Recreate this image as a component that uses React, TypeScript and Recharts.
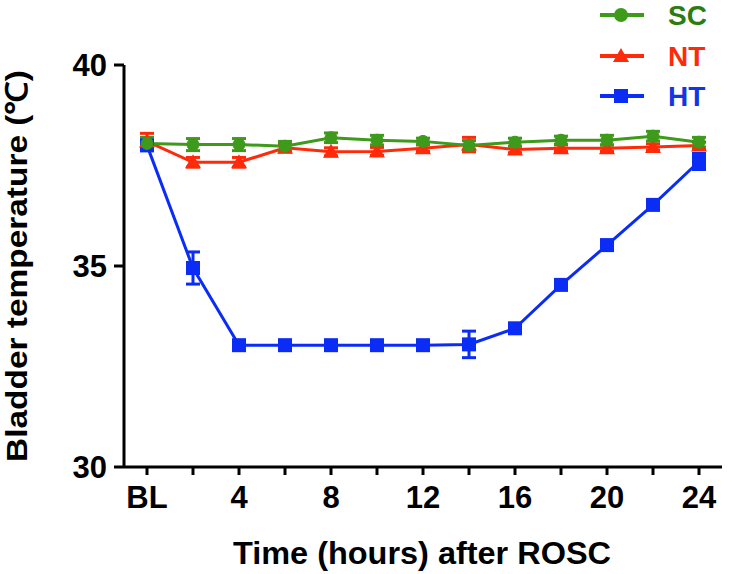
import { LineChart, Line, XAxis, YAxis, ErrorBar, Label } from 'recharts';

// time points (hours after ROSC), 0 = baseline
const hours = [0, 2, 4, 6, 8, 10, 12, 14, 16, 18, 20, 22, 24];
const xTicks = [0, 2, 4, 6, 8, 10, 12, 14, 16, 18, 20, 22, 24];
const yTicks = [30, 35, 40];

const scMean = [38.05, 38.02, 38.02, 37.98, 38.19, 38.13, 38.1, 38.0, 38.08, 38.13, 38.13, 38.23, 38.08];
const scErr = [0.15, 0.15, 0.15, 0.12, 0.12, 0.12, 0.08, 0.12, 0.1, 0.1, 0.12, 0.12, 0.12];
const ntMean = [38.1, 37.58, 37.58, 37.94, 37.84, 37.85, 37.93, 38.02, 37.9, 37.93, 37.93, 37.96, 38.0];
const ntErr = [0.2, 0.12, 0.12, 0.1, 0.1, 0.1, 0.08, 0.18, 0.08, 0.08, 0.08, 0.08, 0.08];
const htMean = [38.0, 34.95, 33.03, 33.03, 33.03, 33.03, 33.03, 33.05, 33.45, 34.53, 35.52, 36.52, 37.6];
const htErr = [0.1, 0.4, 0.1, 0.12, 0.1, 0.1, 0.1, 0.33, 0.1, 0.1, 0.1, 0.1, 0.2];

const GREEN = '#3d9a1b';
const RED = '#ff2a0a';
const BLUE = '#0b2cf5';

const data = hours.map((h, i) => ({
  hour: h,
  sc: scMean[i],
  scErr: scErr[i],
  nt: ntMean[i],
  ntErr: ntErr[i],
  ht: htMean[i],
  htErr: htErr[i],
}));

const FONT = '"Liberation Sans", Arial, sans-serif';

function Triangle(props: any) {
  const { cx, cy, index } = props;
  if (cx == null || cy == null) return null;
  const s = 8;
  return (
    <polygon
      key={`tri-${index}`}
      points={`${cx},${cy - s} ${cx + s},${cy + s * 0.75} ${cx - s},${cy + s * 0.75}`}
      fill={RED}
    />
  );
}

function Square(props: any) {
  const { cx, cy, index } = props;
  if (cx == null || cy == null) return null;
  return <rect key={`sq-${index}`} x={cx - 7} y={cy - 7} width={14} height={14} fill={BLUE} />;
}

function LegendBox() {
  const rows = [
    { name: 'SC', color: GREEN, text: '#2c7c12', y: 15 },
    { name: 'NT', color: RED, text: RED, y: 56 },
    { name: 'HT', color: BLUE, text: '#1236e6', y: 96 },
  ];
  return (
    <svg width={150} height={120} style={{ position: 'absolute', left: 582, top: 0 }}>
      {rows.map((r) => (
        <g key={r.name}>
          <line x1={18} x2={62} y1={r.y} y2={r.y} stroke={r.color} strokeWidth={4} />
          {r.name === 'SC' && <circle cx={39} cy={r.y} r={7} fill={r.color} />}
          {r.name === 'NT' && (
            <polygon points={`39,${r.y - 8} 47,${r.y + 6} 31,${r.y + 6}`} fill={r.color} />
          )}
          {r.name === 'HT' && <rect x={32} y={r.y - 7} width={14} height={14} fill={r.color} />}
          <text
            x={86}
            y={r.y + 10}
            fill={r.text}
            fontFamily={FONT}
            fontWeight="bold"
            fontSize={28}
          >
            {r.name}
          </text>
        </g>
      ))}
    </svg>
  );
}

export default function App() {
  const tickStyle = { fill: '#000', fontFamily: FONT, fontWeight: 'bold', fontSize: 31 };
  return (
    <div style={{ position: 'absolute', left: 0, top: 0, width: 732, height: 574, background: '#fff' }}>
      <LineChart
        width={732}
        height={574}
        data={data}
        margin={{ top: 65, right: 10, left: 0, bottom: 0 }}
      >
        <XAxis
          dataKey="hour"
          type="number"
          domain={[-1, 25]}
          ticks={xTicks}
          allowDataOverflow
          tickFormatter={(v: number) => (v === 0 ? 'BL' : v % 4 === 0 ? String(v) : '')}
          stroke="#000"
          strokeWidth={3}
          tickSize={8}
          tickMargin={11}
          tick={tickStyle}
          height={107}
          interval={0}
        >
          <Label
            content={() => (
              <text
                x={422}
                y={564}
                textAnchor="middle"
                fontFamily={FONT}
                fontWeight="bold"
                fontSize={31}
                textLength={378}
                lengthAdjust="spacingAndGlyphs"
              >
                Time (hours) after ROSC
              </text>
            )}
          />
        </XAxis>
        <YAxis
          type="number"
          domain={[30, 40]}
          ticks={yTicks}
          stroke="#000"
          strokeWidth={3}
          tickSize={10}
          tickMargin={7}
          tick={tickStyle}
          width={124}
        >
          <Label
            content={() => (
              <text
                x={27}
                y={266}
                transform="rotate(-90 27 266)"
                textAnchor="middle"
                fontFamily={FONT}
                fontWeight="bold"
                fontSize={30}
                textLength={392}
                lengthAdjust="spacingAndGlyphs"
              >
                Bladder temperature (℃)
              </text>
            )}
          />
        </YAxis>
        <Line
          dataKey="ht"
          stroke={BLUE}
          strokeWidth={3}
          dot={Square}
          activeDot={false}
          isAnimationActive={false}
        >
          <ErrorBar dataKey="htErr" direction="y" width={7} strokeWidth={3} stroke={BLUE} />
        </Line>
        <Line
          dataKey="nt"
          stroke={RED}
          strokeWidth={3}
          dot={Triangle}
          activeDot={false}
          isAnimationActive={false}
        >
          <ErrorBar dataKey="ntErr" direction="y" width={7} strokeWidth={3} stroke={RED} />
        </Line>
        <Line
          dataKey="sc"
          stroke={GREEN}
          strokeWidth={3}
          dot={{ r: 6, fill: GREEN, stroke: GREEN, strokeWidth: 1 }}
          activeDot={false}
          isAnimationActive={false}
        >
          <ErrorBar dataKey="scErr" direction="y" width={7} strokeWidth={3} stroke={GREEN} />
        </Line>
      </LineChart>
      <LegendBox />
    </div>
  );
}
